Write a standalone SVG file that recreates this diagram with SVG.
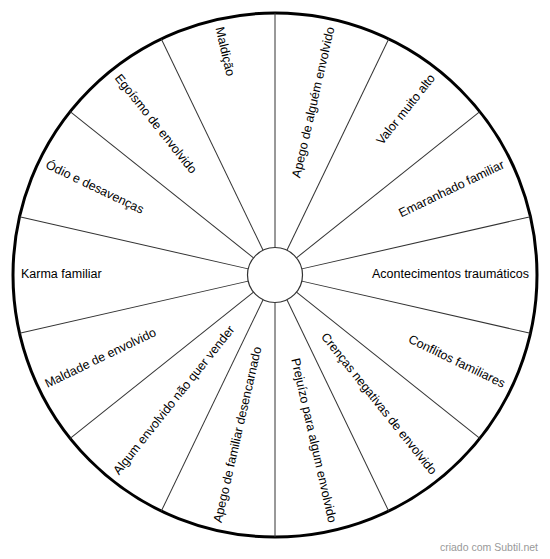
<svg xmlns="http://www.w3.org/2000/svg" width="550" height="559" viewBox="0 0 550 559">
<style>
.spoke{stroke:#333;stroke-width:1;fill:none}
.lbl{font-family:"Liberation Sans",Arial,sans-serif;font-size:12.5px;fill:#000}
.r{text-anchor:end}
.l{text-anchor:start}
.wm{font-family:"Liberation Sans",Arial,sans-serif;font-size:10.5px;fill:#999;text-anchor:end}
</style>
<rect width="550" height="559" fill="#fff"/>
<g id="wheel" transform="translate(275,275)">
<circle id="outer" r="262" fill="#fff" stroke="#000" stroke-width="3"/>
<g id="connectors">
<line class="spoke" x1="27.5" y1="0" x2="262" y2="0" transform="rotate(12.857)"/>
<line class="spoke" x1="27.5" y1="0" x2="262" y2="0" transform="rotate(38.571)"/>
<line class="spoke" x1="27.5" y1="0" x2="262" y2="0" transform="rotate(64.286)"/>
<line class="spoke" x1="27.5" y1="0" x2="262" y2="0" transform="rotate(90)"/>
<line class="spoke" x1="27.5" y1="0" x2="262" y2="0" transform="rotate(115.714)"/>
<line class="spoke" x1="27.5" y1="0" x2="262" y2="0" transform="rotate(141.429)"/>
<line class="spoke" x1="27.5" y1="0" x2="262" y2="0" transform="rotate(167.143)"/>
<line class="spoke" x1="27.5" y1="0" x2="262" y2="0" transform="rotate(-12.857)"/>
<line class="spoke" x1="27.5" y1="0" x2="262" y2="0" transform="rotate(-38.571)"/>
<line class="spoke" x1="27.5" y1="0" x2="262" y2="0" transform="rotate(-64.286)"/>
<line class="spoke" x1="27.5" y1="0" x2="262" y2="0" transform="rotate(-90)"/>
<line class="spoke" x1="27.5" y1="0" x2="262" y2="0" transform="rotate(-115.714)"/>
<line class="spoke" x1="27.5" y1="0" x2="262" y2="0" transform="rotate(-141.429)"/>
<line class="spoke" x1="27.5" y1="0" x2="262" y2="0" transform="rotate(-167.143)"/>
</g>
<circle id="hub" r="27.5" fill="#fff" stroke="#333" stroke-width="1.2"/>
<g id="n-acontecimentos" transform="rotate(0)"><text class="lbl r" x="254" y="3">Acontecimentos traumáticos</text></g>
<g id="n-emaranhado" transform="rotate(-25.714)"><text class="lbl r" x="254" y="3">Emaranhado familiar</text></g>
<g id="n-valor" transform="rotate(-51.429)"><text class="lbl r" x="254" y="3">Valor muito alto</text></g>
<g id="n-apego-alguem" transform="rotate(-77.143)"><text class="lbl r" x="254" y="3">Apego de alguém envolvido</text></g>
<g id="n-maldicao" transform="rotate(77.143)"><text class="lbl l" x="-254" y="3">Maldição</text></g>
<g id="n-egoismo" transform="rotate(51.429)"><text class="lbl l" x="-254" y="3">Egoísmo de envolvido</text></g>
<g id="n-odio" transform="rotate(25.714)"><text class="lbl l" x="-254" y="3">Ódio e desavenças</text></g>
<g id="n-karma" transform="rotate(0)"><text class="lbl l" x="-254" y="3">Karma familiar</text></g>
<g id="n-maldade" transform="rotate(-25.714)"><text class="lbl l" x="-254" y="3">Maldade de envolvido</text></g>
<g id="n-algum" transform="rotate(-51.429)"><text class="lbl l" x="-254" y="3">Algum envolvido não quer vender</text></g>
<g id="n-apego-familiar" transform="rotate(-77.143)"><text class="lbl l" x="-254" y="3">Apego de familiar desencarnado</text></g>
<g id="n-prejuizo" transform="rotate(77.143)"><text class="lbl r" x="254" y="3">Prejuízo para algum envolvido</text></g>
<g id="n-crencas" transform="rotate(51.429)"><text class="lbl r" x="254" y="3">Crenças negativas de envolvido</text></g>
<g id="n-conflitos" transform="rotate(25.714)"><text class="lbl r" x="254" y="3">Conflitos familiares</text></g>
</g>
<text class="wm" x="538" y="551">criado com Subtil.net</text>
</svg>
